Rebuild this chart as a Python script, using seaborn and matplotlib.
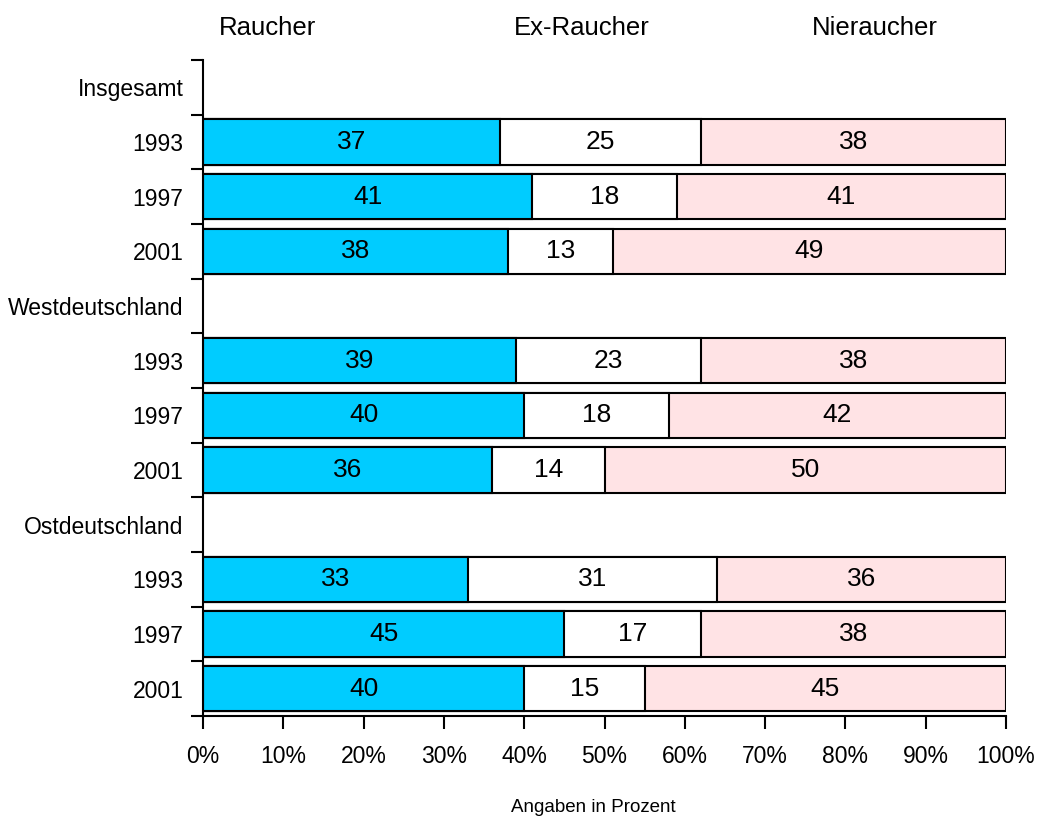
import matplotlib
matplotlib.use('Agg')
import matplotlib.pyplot as plt
import seaborn as sns
import pandas as pd
import numpy as np
from matplotlib.ticker import FixedLocator

# ---------------------------------------------------------------------------
# Data (Angaben in Prozent)
# ---------------------------------------------------------------------------

groups = ['Insgesamt', 'Westdeutschland', 'Ostdeutschland']
years  = ['1993', '1997', '2001']

raucher    = {'Insgesamt': [37, 41, 38], 'Westdeutschland': [39, 40, 36], 'Ostdeutschland': [33, 45, 40]}
ex_raucher = {'Insgesamt': [25, 18, 13], 'Westdeutschland': [23, 18, 14], 'Ostdeutschland': [31, 17, 15]}
nieraucher = {'Insgesamt': [38, 41, 49], 'Westdeutschland': [38, 42, 50], 'Ostdeutschland': [36, 38, 45]}

series_names = ['Raucher', 'Ex-Raucher', 'Nieraucher']
colors       = ['#00CCFF', '#FFFFFF', '#FFE3E5']

# ---------------------------------------------------------------------------
# Build table: header rows carry no values
# ---------------------------------------------------------------------------

rows = []
order, labels = [], []
for g in groups:
    order.append(g)
    labels.append(g)
    rows.append({'key': g, 'R': np.nan, 'E': np.nan, 'N': np.nan})
    for i, y in enumerate(years):
        k = f'{g} {y}'
        order.append(k)
        labels.append(y)
        rows.append({'key': k, 'R': raucher[g][i], 'E': ex_raucher[g][i], 'N': nieraucher[g][i]})

df = pd.DataFrame(rows)
df['cum_E'] = df['R'] + df['E']
df['cum_N'] = df['R'] + df['E'] + df['N']

# ---------------------------------------------------------------------------
# Plot
# ---------------------------------------------------------------------------

sns.set_style('white')
plt.rcParams['font.family'] = ['Liberation Sans', 'DejaVu Sans']
plt.rcParams.update({'text.color': 'black', 'axes.labelcolor': 'black',
                     'xtick.color': 'black', 'ytick.color': 'black'})

fig = plt.figure(figsize=(10.38, 8.18), dpi=100)
ax = fig.add_axes([203 / 1038, 1 - 716 / 818, 803 / 1038, 656 / 818])

plot_df = df.dropna()
for col, c in zip(['cum_N', 'cum_E', 'R'], colors[::-1]):
    sns.barplot(data=plot_df, x=col, y='key', order=order, color=c, width=0.83,
                edgecolor='black', linewidth=1.5, saturation=1, ax=ax)

# segment labels
for _, r in plot_df.iterrows():
    pos = order.index(r['key'])
    left = 0
    for v in [r['R'], r['E'], r['N']]:
        ax.text(left + v / 2, pos, f'{int(v)}', ha='center', va='center', fontsize=19)
        left += v

ax.set_xlim(0, 100)
ax.set_ylim(len(order) - 0.5, -0.5)
ax.set_xticks(range(0, 101, 10))
ax.set_xticklabels([f'{t}%' for t in range(0, 101, 10)], fontsize=16.5)
ax.set_yticks(range(len(order)))
ax.set_yticklabels(labels, fontsize=16.5)
ax.yaxis.set_minor_locator(FixedLocator(np.arange(-0.5, len(order), 1)))
ax.tick_params(axis='y', which='major', length=0, pad=14)
ax.tick_params(axis='y', which='minor', length=9, width=1.5, direction='out', left=True)
ax.tick_params(axis='x', which='major', length=9, width=1.5, direction='out', pad=12, bottom=True)
ax.set_xlabel('')
ax.set_ylabel('')

sns.despine(ax=ax)
for s in ['left', 'bottom']:
    ax.spines[s].set_linewidth(1.5)
    ax.spines[s].set_color('black')

# column headers
for name, xa in zip(series_names, [0.08, 0.472, 0.837]):
    ax.text(xa, 1 + 32 / 656, name, transform=ax.transAxes, ha='center', va='center', fontsize=18.5)

fig.text(593 / 1038, 1 - 808 / 818, 'Angaben in Prozent', ha='center', va='center', fontsize=13.5)

fig.savefig('out.png', dpi=100)
